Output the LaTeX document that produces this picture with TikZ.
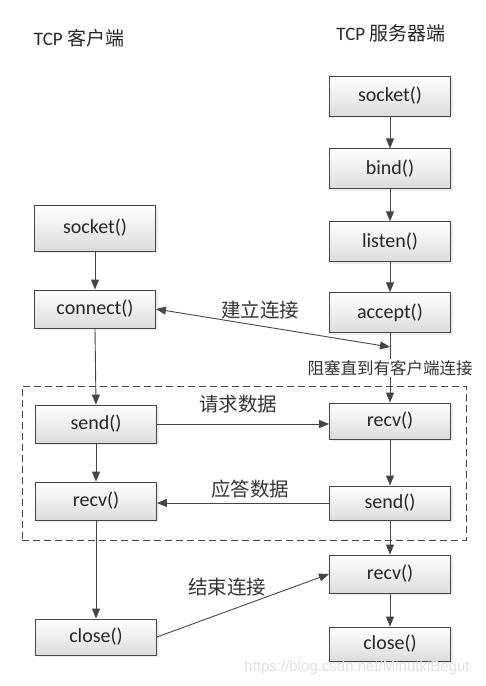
\documentclass[tikz,border=0pt]{standalone}
\usepackage{fontspec}
\setmainfont{Carlito}
\newfontfamily\cjk{Noto Sans CJK SC}
\newfontfamily\wmfont{Liberation Sans}
\usetikzlibrary{positioning, arrows.meta, shadows}
\definecolor{linegray}{HTML}{454545}
\tikzstyle{Box} = [
draw=linegray, line width=0.9pt,
top color=white, bottom color=black!14,
drop shadow={opacity=0.15, shadow xshift=2pt, shadow yshift=-2pt},
minimum width=121pt, minimum height=40pt, text=black!85,
font=\fontsize{20}{24}\selectfont]
\tikzstyle{Arrow} = [
line width=0.9pt, draw=linegray,
-{Triangle[length=10pt, width=8pt]}]
\tikzstyle{DArrow} = [
line width=0.9pt, draw=linegray,
{Triangle[length=10pt, width=8pt]}-{Triangle[length=10pt, width=8pt]}]
\tikzstyle{Label} = [font=\cjk\fontsize{19.5}{23}\selectfont, text=black!80]

\begin{document}
\begin{tikzpicture}[x=1pt, y=-1pt]
    \useasboundingbox (0,0) rectangle (486,686);
    \node (0) at (79,38) [font=\fontsize{19}{23}\selectfont, text=black!85] {TCP {\cjk 客户端}};
    \node (5) at (391,33) [font=\fontsize{19}{23}\selectfont, text=black!85] {TCP {\cjk 服务器端}};
    \node (14) at (244,463) [draw=linegray, line width=0.9pt, dash pattern=on 7pt off 4pt,
        minimum width=444pt, minimum height=154pt] {};
    \node [Box, minimum height=46pt] (1) at (95,228) {socket()};
    \node [Box, minimum height=38pt] (2) at (95,309) {connect()};
    \node [Box, minimum height=38pt] (3) at (96,424) {send()};
    \node [Box, minimum height=38pt] (4) at (96,501) {recv()};
    \node [Box, minimum height=36pt] (15) at (96,637) {close()};
    \node [Box] (6) at (390,96) {socket()};
    \node [Box, below=32pt of 6] (7) {bind()};
    \node [Box, below=32pt of 7] (8) {listen()};
    \node [Box, below=30pt of 8] (9) {accept()};
    \node [Box, minimum height=36pt] (10) at (390,421) {recv()};
    \node [Box, minimum height=34pt] (11) at (390,503) {send()};
    \node [Box, minimum height=38pt] (12) at (390,574) {recv()};
    \node [Box, minimum height=34pt] (13) at (390,644) {close()};
    \coordinate (16) at (390,347);
    \draw[Arrow] (1.south)--(2.north);
    \draw[Arrow] (2.south)--(3.north);
    \draw[Arrow] (3.south)--(4.north);
    \draw[Arrow] (4.south)--(15.north);
    \draw[Arrow] (6.south)--(7.north);
    \draw[Arrow] (7.south)--(8.north);
    \draw[Arrow] (8.south)--(9.north);
    \draw[Arrow] (9.south)--(10.north);
    \draw[Arrow] (10.south)--(11.north);
    \draw[Arrow] (11.south)--(12.north);
    \draw[Arrow] (12.south)--(13.north);
    \draw[DArrow] (2.east)--(16);
    \draw[Arrow] (3.east)--(3.east -| 10.west);
    \draw[Arrow] (11.west)--(11.west -| 4.east);
    \draw[Arrow] (15.east)--(12.west);
    \node [Label] (17) at (260,310) {建立连接};
    \node [Label, fill=white, inner sep=1pt, font=\cjk\fontsize{16.5}{20}\selectfont] (18) at (390,368) {阻塞直到有客户端连接};
    \node [Label] (19) at (238,404) {请求数据};
    \node [Label] (20) at (250,489) {应答数据};
    \node [Label] (21) at (227,587) {结束连接};
    \node (22) at (357,668) [font=\wmfont\fontsize{15}{18}\selectfont, text=black!12] {https://blog.csdn.net/MinutkiBegut};
\end{tikzpicture}
\end{document}
